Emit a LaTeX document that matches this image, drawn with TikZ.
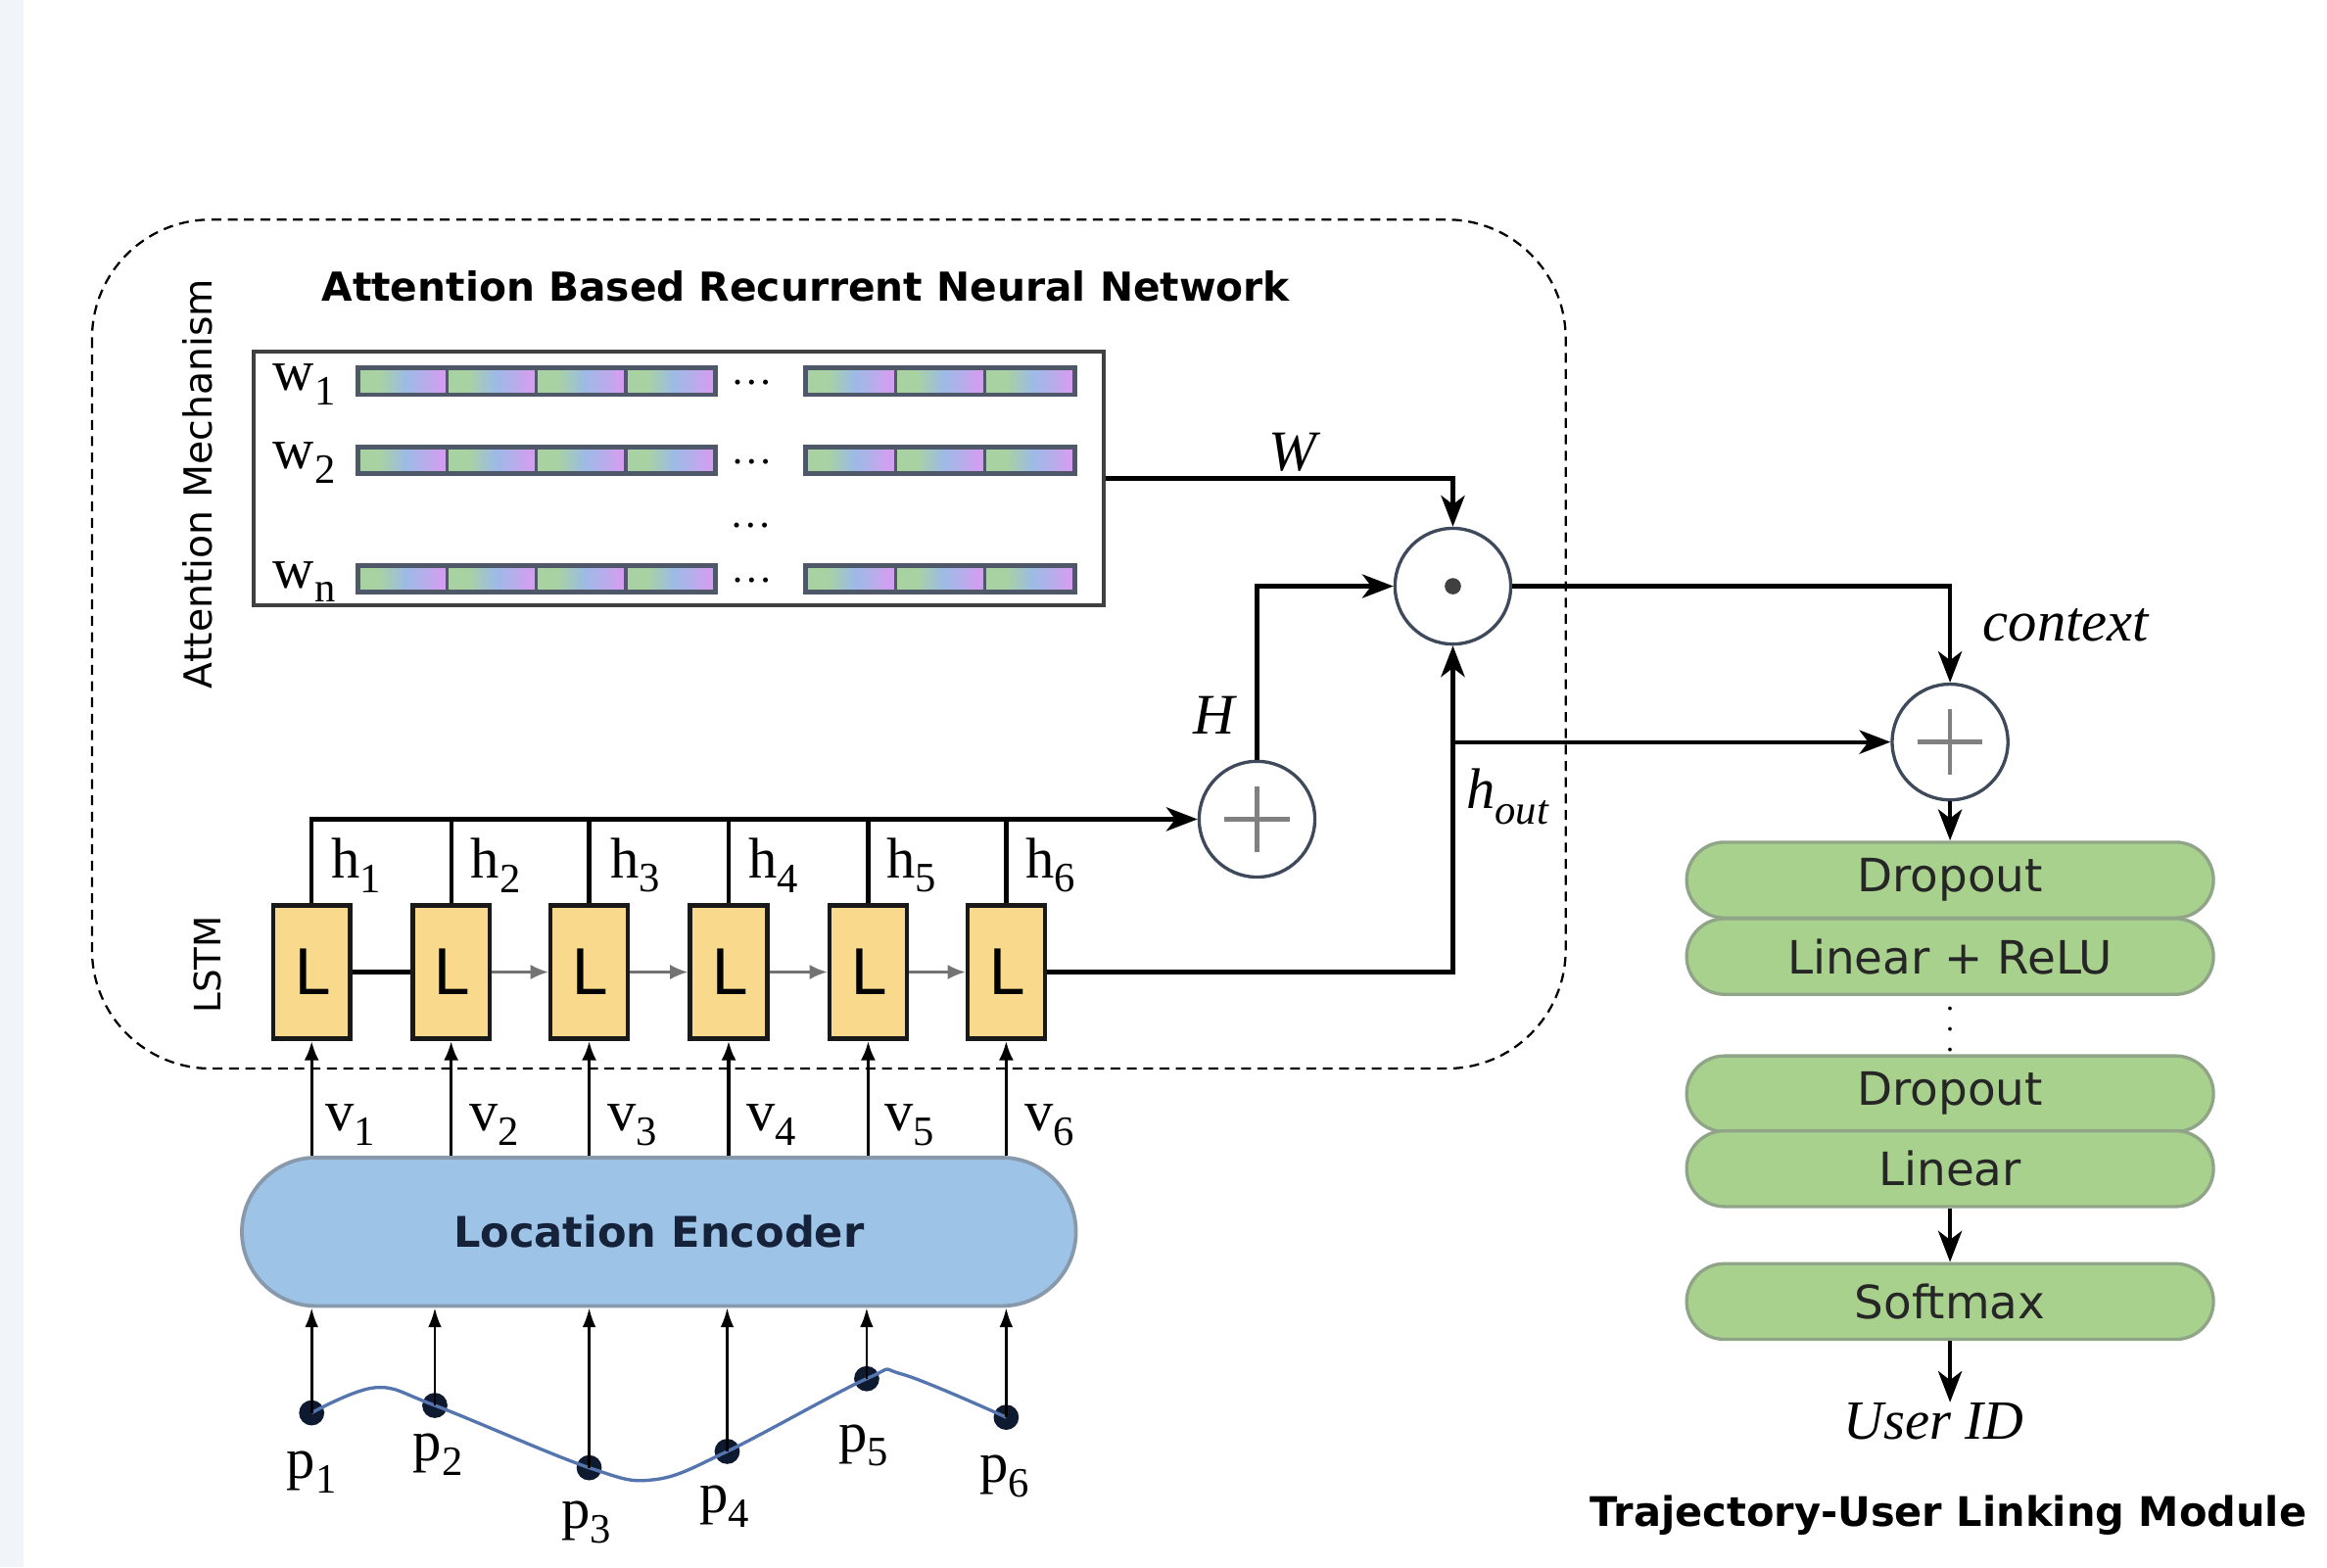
\documentclass[tikz,border=0pt]{standalone}
\usepackage{fontspec}
\setmainfont{Liberation Serif}
\setsansfont{DejaVu Sans}
\usetikzlibrary{arrows.meta,calc}
\definecolor{lstmfill}{HTML}{F9D98B}
\definecolor{encfill}{HTML}{9DC3E6}
\definecolor{encdraw}{HTML}{8799AB}
\definecolor{grfill}{HTML}{A9D18E}
\definecolor{grdraw}{HTML}{90A588}
\definecolor{cellL}{HTML}{A8D2A2}
\definecolor{cellM}{HTML}{9DBAE6}
\definecolor{cellR}{HTML}{D29FF0}
\definecolor{celldraw}{HTML}{4E5868}
\definecolor{circdraw}{HTML}{3E4A5C}
\definecolor{curveblue}{HTML}{5575AE}
\definecolor{ptnavy}{HTML}{0E1A30}
\definecolor{encText}{HTML}{15223A}
\definecolor{stripcol}{HTML}{F1F5FA}
\pgfdeclarehorizontalshading{cellshade}{100bp}{color(0bp)=(cellL); color(25bp)=(cellL); color(37bp)=(cellL); color(52bp)=(cellM); color(63bp)=(cellM!50!cellR); color(71bp)=(cellR); color(100bp)=(cellR)}
\newcommand\lsub[1]{\raisebox{-0.55ex}{\fontsize{8}{8}\selectfont #1}}
\begin{document}
\begin{tikzpicture}[x=0.1mm,y=-0.1mm,
  lbl/.style={font=\fontsize{11}{11}\selectfont, inner sep=0},
  ilbl/.style={font=\fontsize{11}{11}\selectfont\itshape, inner sep=0},
  arr/.style={line width=0.28mm, -{Stealth[length=2.1mm,width=1.6mm,inset=0.6mm]}},
  varr/.style={line width=0.22mm, -{Latex[length=1.3mm,width=1mm]}},
  parr/.style={line width=0.17mm, -{Latex[length=1.3mm,width=0.9mm]}},
  chain/.style={line width=0.15mm, black!55, -{Latex[length=1.2mm,width=1mm]}},
  lstm/.style={draw=black!90, line width=0.3mm, fill=lstmfill, minimum width=5.2mm, minimum height=9mm, inner sep=0, font=\sffamily\fontsize{12}{12}\selectfont},
  pill/.style={draw=grdraw, line width=0.22mm, fill=grfill, minimum width=35.5mm, minimum height=5.1mm, rounded corners=2.55mm, inner sep=0, font=\sffamily\fontsize{8.8}{8.8}\selectfont, text=black!85},
  circ/.style={circle, draw=circdraw, line width=0.22mm, fill=white, minimum size=7.8mm, inner sep=0},
  plussign/.style={path picture={\draw[black!50, line width=0.3mm] (path picture bounding box.center) ++(-2.2mm,0) -- ++(4.4mm,0);
      \draw[black!50, line width=0.3mm] (path picture bounding box.center) ++(0,-2.2mm) -- ++(0,4.4mm);}},
  dotsign/.style={path picture={\fill[black!75] (path picture bounding box.center) circle (0.55mm);}},
  cell/.style={draw=celldraw, line width=0.22mm, shading=cellshade},
  ptdot/.style={circle, fill=ptnavy, minimum size=1.7mm, inner sep=0},
  dashbox/.style={line width=0.15mm, dash pattern=on 0.66mm off 0.44mm, rounded corners=8mm}
]
\useasboundingbox (0,0) rectangle (1568,1056);
\fill[stripcol] (0,0) rectangle (16,1056);

% dashed container
\draw[dashbox] (62,148) rectangle (1055,720);
\node[font=\sffamily\bfseries\fontsize{7.65}{7.65}\selectfont, inner sep=0] (title) at (543,193) {Attention Based Recurrent Neural Network};
\node[rotate=90, font=\sffamily\fontsize{7.4}{7.4}\selectfont, inner sep=0] (attmech) at (133,326) {Attention Mechanism};
\node[rotate=90, font=\sffamily\fontsize{7}{7}\selectfont, inner sep=0] (lstmlbl) at (140,650) {LSTM};

% attention matrix box
\node[draw=black!75, line width=0.25mm, minimum width=57.3mm, minimum height=17.1mm, inner sep=0] (att) at (457.5,322.5) {};
\foreach \r/\t in {257/1,310/2,390/n} {
  \foreach \i in {0,...,3} {
    \path[cell] ({241+60.25*\i},{\r-9}) rectangle ({241+60.25*(\i+1)},{\r+9});
  }
  \foreach \i in {0,...,2} {
    \path[cell] ({543+60.3*\i},{\r-9}) rectangle ({543+60.3*(\i+1)},{\r+9});
  }
  \draw[celldraw, line width=0.32mm] (241,{\r-9}) rectangle (482,{\r+9});
  \draw[celldraw, line width=0.32mm] (543,{\r-9}) rectangle (724,{\r+9});
  \node[font=\fontsize{8}{8}\selectfont, inner sep=0] at (507,{\r+1}) {\dots};
  \node[lbl] at (205,{\r+2}) {w\lsub{\t}};
}
\node[font=\fontsize{8}{8}\selectfont, inner sep=0] (vdots) at (506,354) {\dots};

% operator circles
\node[circ, dotsign] (dot) at (979,395) {};
\node[circ, plussign] (plusH) at (847,552) {};
\node[circ, plussign] (plusR) at (1314,500) {};

% LSTM cells
\foreach \i/\x in {1/210,2/304,3/397,4/491,5/585,6/678} {
  \node[lstm] (L\i) at (\x,655) {L};
}
\draw[line width=0.3mm] (L1.east) -- (L2.west);
\foreach \a/\b in {2/3,3/4,4/5,5/6} { \draw[chain] (L\a.east) -- (L\b.west); }

% hidden-state bus
\draw[arr, line width=0.3mm] (L1.north) |- (plusH.west);
\foreach \i in {2,...,6} { \draw[line width=0.28mm] (L\i.north) -- (L\i.north |- plusH.west); }
\foreach \i/\x in {1/240,2/334,3/428,4/521,5/614,6/708} { \node[lbl] at (\x,583) {h\lsub{\i}}; }

% attention connections
\draw[arr, line width=0.3mm] (att.east) -| (dot.north);
\node[ilbl] at (871,305) {W};
\draw[arr] (plusH.north) |- (dot.west);
\node[ilbl] at (818,482) {H};
\draw[arr] (L6.east) -| (dot.south);
\draw[arr] (dot.south |- plusR.west) -- (plusR.west);
\node[inner sep=0, font=\fontsize{11}{11}\selectfont] at (1016,537) {\textit{h}\raisebox{-0.6ex}{\fontsize{8}{8}\selectfont\textit{out}}};
\draw[arr] (dot.east) -| (plusR.north);
\node[ilbl] at (1392,421) {context};

% location encoder
\node[draw=encdraw, line width=0.25mm, fill=encfill, minimum width=56.2mm, minimum height=10mm, rounded corners=5mm, inner sep=0, font=\sffamily\bfseries\fontsize{8.1}{8.1}\selectfont, text=encText] (enc) at (444,830) {Location Encoder};
\foreach \i in {1,...,6} { \draw[varr] (L\i.south |- enc.north) -- (L\i.south); }
\foreach \i/\x in {1/236,2/333,3/426,4/520,5/613,6/707} { \node[lbl] at (\x,758) {v\lsub{\i}}; }

% trajectory points
\node[ptdot] (p1) at (210,952) {};
\node[ptdot] (p2) at (293,947) {};
\node[ptdot] (p3) at (397,989) {};
\node[ptdot] (p4) at (490,978) {};
\node[ptdot] (p5) at (584,929) {};
\node[ptdot] (p6) at (678,955) {};
\draw[curveblue, line width=0.22mm] plot[smooth, tension=0.6] coordinates {(p1.center) (253,935) (p2.center) (397,989) (441,997) (p4.center) (p5.center) (608,926) (p6.center)};
\foreach \i in {1,...,6} { \draw[parr] (p\i.center) -- (p\i.center |- enc.south); }
\foreach \i/\x/\y in {1/210/992,2/295/980,3/395/1026,4/488/1015,5/582/974,6/677/995} { \node[lbl] at (\x,\y) {p\lsub{\i}}; }

% trajectory-user linking module
\node[pill] (d1) at (1314,593) {Dropout};
\node[pill] (lr) at (1314,644.5) {Linear + ReLU};
\node[font=\fontsize{6}{6}\selectfont, inner sep=0] (mdots) at (1314,683) {$\vdots$};
\node[pill] (d2) at (1314,737) {Dropout};
\node[pill] (lin) at (1314,787.5) {Linear};
\node[pill] (sm) at (1314,877) {Softmax};
\node[ilbl, font=\fontsize{10.6}{10.6}\selectfont\itshape] (uid) at (1303,958) {User ID};
\draw[arr] (plusR.south) -- (d1.north);
\draw[arr] (lin.south) -- (sm.north);
\draw[arr] (sm.south) -- (sm.south |- uid.north);
\node[font=\sffamily\bfseries\fontsize{7.8}{7.8}\selectfont, inner sep=0] (tulm) at (1313,1021) {Trajectory-User Linking Module};
\end{tikzpicture}
\end{document}
